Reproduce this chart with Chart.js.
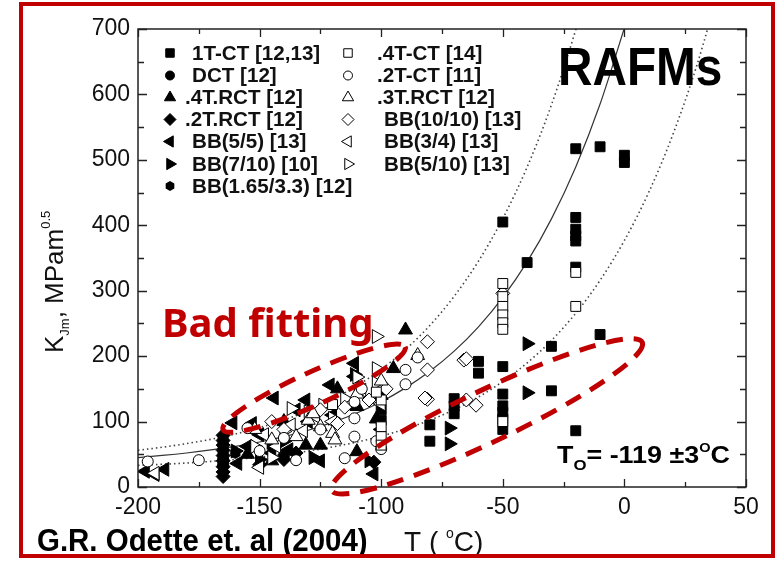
<!DOCTYPE html>
<html>
<head>
<meta charset="utf-8">
<script src="https://cdn.jsdelivr.net/npm/chart.js@4.4.1/dist/chart.umd.min.js"></script>
<style>
  html, body { margin: 0; padding: 0; background: #fff; }
  #wrap { position: relative; width: 775px; height: 563px; }
</style>
</head>
<body>
<div id="wrap"><canvas id="chart"></canvas></div>
<script>
const SANS = '"Liberation Sans", Arial, sans-serif';

// axis ticks
const tempTicks = [-200, -150, -100, -50, 0, 50];
const kTicks = [0, 100, 200, 300, 400, 500, 600, 700];

// master curve (median) and 5% / 95% bounds
const medianT = [-200, -190, -180, -170, -160, -150, -140, -130, -120, -110, -100, -90, -80, -70, -60, -50, -40, -30, -20, -10, 0];
const medianK = [45.0, 48.2, 52.0, 56.6, 62.1, 68.8, 77.0, 86.8, 98.7, 113.1, 130.4, 151.5, 176.9, 207.6, 244.8, 289.7, 344.0, 409.8, 489.2, 585.3, 701.5];
const upperT = [-200, -190, -180, -170, -160, -150, -140, -130, -120, -110, -100, -90, -80, -70, -60, -50, -40, -30, -20, -15];
const upperK = [56.2, 60.8, 66.3, 72.9, 81.0, 90.7, 102.4, 116.7, 133.9, 154.7, 179.8, 210.2, 246.9, 291.4, 345.2, 410.3, 488.9, 584.0, 699.0, 765];
const lowerT = [-200, -190, -180, -170, -160, -150, -140, -130, -120, -110, -100, -90, -80, -70, -60, -50, -40, -30, -20, -10, 0, 10, 20, 30, 40];
const lowerK = [33.1, 34.7, 36.7, 39.1, 42.1, 45.6, 49.8, 55.0, 61.2, 68.7, 77.8, 88.8, 102.1, 118.2, 137.6, 161.2, 189.6, 224.0, 265.6, 315.9, 376.8, 450.3, 539.4, 647, 777];

// measured points [T degC, K MPa m^0.5]
const ct1 = [[-20,517],[-10,520],[0,507],[0,496],[-50,405],[-40,343],[-20,412],[-20,394],[-20,384],[-20,376],[-20,336],[-10,233],[-20,86],[-30,215],[-30,147],[-50,184],[-50,142],[-50,124],[-50,114],[-50,104],[-50,88],[-60,192],[-60,174],[-70,135],[-70,124],[-70,112],[-80,95],[-80,70],[-100,118],[-100,102],[-165,72],[-165,58]];
const dct = [[-165,42],[-165,34],[-140,48]];
const rct4 = [[-90,240],[-95,181],[-100,140],[-110,123],[-110,54],[-125,64],[-131,64],[-145,40],[-102,104],[-118,150],[-140,100],[-155,50]];
const rct2 = [[-165,79],[-165,71],[-165,64],[-165,56],[-165,48],[-165,40],[-165,31],[-165,23],[-165,16],[-140,42],[-135,52],[-103,38],[-150,34]];
const bb55 = [[-197,24],[-193,19],[-189,27],[-161,98],[-159,36],[-153,97],[-144,136],[-131,133],[-121,156],[-111,189],[-111,169],[-145,52],[-138,57],[-150,80],[-130,100],[-120,110],[-103,20],[-100,88],[-125,40],[-155,62],[-135,118]];
const bb710 = [[-40,219],[-40,144],[-72,90],[-72,66],[-111,172],[-140,70],[-128,45],[-150,42],[-105,40],[-160,55]];
const bb165 = [[-165,44],[-160,52],[-145,62]];
const ct4 = [[-50,311],[-50,291],[-50,276],[-50,263],[-50,251],[-50,241],[-50,100],[-20,328],[-20,276],[-100,133],[-100,92],[-100,77],[-100,64],[-102,145],[-120,126]];
const ct2 = [[-196,39],[-175,41],[-111,130],[-111,105],[-111,77],[-115,44],[-135,41],[-90,179],[-90,157],[-85,198],[-100,58],[-102,70],[-125,88],[-140,75],[-150,55],[-155,90],[-108,150]];
const rct3 = [[-85,201],[-130,102],[-125,92],[-120,82],[-135,77],[-145,72],[-152,88],[-119,72],[-128,112],[-110,142],[-100,162]];
const bb1010 = [[-81,222],[-81,179],[-66,194],[-65,196],[-81,134],[-82,136],[-65,133],[-61,125],[-50,296],[-98,150],[-115,122],[-125,118],[-140,88],[-145,100],[-118,97],[-105,133]];
const bb34 = [[-193,21],[-148,80],[-137,95],[-127,108],[-120,100],[-108,148],[-100,127],[-143,62],[-150,30],[-132,86]];
const bb510 = [[-102,230],[-102,181],[-102,159],[-130,115],[-124,125],[-140,85],[-115,135],[-120,105],[-152,62],[-110,168],[-137,120],[-145,45]];

// hexagon marker
function hexagon(r) {
  const c = document.createElement('canvas');
  c.width = c.height = Math.ceil(r * 2 + 2);
  const g = c.getContext('2d');
  g.fillStyle = '#000';
  g.beginPath();
  for (let i = 0; i < 6; i++) {
    const a = Math.PI / 6 + i * Math.PI / 3;
    const px = c.width / 2 + r * Math.cos(a), py = c.height / 2 + r * Math.sin(a);
    if (i === 0) g.moveTo(px, py); else g.lineTo(px, py);
  }
  g.closePath();
  g.fill();
  return c;
}
const hexBig = hexagon(6);
const hexSmall = hexagon(5);

function pts(arr) { return arr.map(p => ({x: p[0], y: p[1]})); }

function series(label, data, style, rot, r, filled, lr, col) {
  return {
    label: label,
    data: pts(data),
    pointStyle: style,
    pointRotation: rot,
    pointRadius: r,
    pointHoverRadius: r,
    pointBackgroundColor: filled ? '#000' : '#fff',
    pointBorderColor: '#000',
    pointBorderWidth: 1,
    showLine: false,
    order: filled ? 1 : 0,
    legendR: lr,
    legendCol: col,
    legendStyle: style === hexBig ? hexSmall : style
  };
}

function curve(xs, ys, dashed) {
  return {
    label: '',
    data: xs.map((t, i) => ({x: t, y: ys[i]})),
    showLine: true,
    pointRadius: 0,
    borderColor: dashed ? '#444' : '#333',
    borderWidth: dashed ? 1.6 : 1.2,
    borderDash: dashed ? [1.5, 3] : [],
    cubicInterpolationMode: 'monotone',
    order: 2,
    isCurve: true
  };
}

const datasets = [
  series('1T-CT [12,13]', ct1, 'rect', 0, 7, true, 6, 0),
  series('DCT [12]', dct, 'circle', 0, 5.5, true, 4.5, 0),
  series('.4T.RCT [12]', rct4, 'triangle', 0, 8, true, 6.5, 0),
  series('.2T.RCT [12]', rct2, 'rectRot', 0, 7, true, 6, 0),
  series('BB(5/5) [13]', bb55, 'triangle', 270, 8, true, 6.5, 0),
  series('BB(7/10) [10]', bb710, 'triangle', 90, 8, true, 6.5, 0),
  series('BB(1.65/3.3) [12]', bb165, hexBig, 0, 6, true, 5, 0),
  series('.4T-CT [14]', ct4, 'rect', 0, 7, false, 6, 1),
  series('.2T-CT [11]', ct2, 'circle', 0, 5.5, false, 4.5, 1),
  series('.3T.RCT [12]', rct3, 'triangle', 0, 8, false, 6.5, 1),
  series('BB(10/10) [13]', bb1010, 'rectRot', 0, 7, false, 6, 1),
  series('BB(3/4) [13]', bb34, 'triangle', 270, 8, false, 6.5, 1),
  series('BB(5/10) [13]', bb510, 'triangle', 90, 8, false, 6.5, 1),
  curve(medianT, medianK, false),
  curve(upperT, upperK, true),
  curve(lowerT, lowerK, true)
];

// draw text made of runs (for sub/superscripts)
function drawRuns(ctx, runs, x, y, weight, family) {
  let cx = x;
  for (const r of runs) {
    ctx.font = `${weight} ${r.size}px ${family || SANS}`;
    ctx.fillText(r.text, cx, y + (r.dy || 0));
    cx += ctx.measureText(r.text).width;
  }
}

const framePlugin = {
  id: 'frame',
  afterDatasetsDraw(chart) {
    const {ctx, chartArea: a, scales: {x, y}} = chart;
    ctx.save();
    ctx.strokeStyle = '#222';
    ctx.lineWidth = 1.5;
    ctx.strokeRect(a.left, a.top, a.right - a.left, a.bottom - a.top);
    ctx.lineWidth = 1.3;
    ctx.beginPath();
    for (let v = -200; v <= 50; v += 25) {
      const px = Math.round(x.getPixelForValue(v)) + 0.5;
      const len = v % 50 === 0 ? 8 : 5;
      ctx.moveTo(px, a.bottom); ctx.lineTo(px, a.bottom - len);
      ctx.moveTo(px, a.top); ctx.lineTo(px, a.top + len);
    }
    for (let v = 0; v <= 700; v += 50) {
      const py = Math.round(y.getPixelForValue(v)) + 0.5;
      const len = v % 100 === 0 ? 9 : 6;
      ctx.moveTo(a.left, py); ctx.lineTo(a.left + len, py);
      ctx.moveTo(a.right, py); ctx.lineTo(a.right - len, py);
    }
    ctx.stroke();
    ctx.restore();
  }
};

const notesPlugin = {
  id: 'notes',
  afterDraw(chart) {
    const {ctx, scales: {x, y}} = chart;
    ctx.save();

    // legend, two columns
    const rowY = [53, 75.5, 97.5, 119.5, 141.5, 164, 186];
    const markX = [170, 348];
    const textX = [192, 384];
    const rows = [0, 0];
    ctx.textBaseline = 'middle';
    chart.data.datasets.forEach(ds => {
      if (ds.isCurve) return;
      const c = ds.legendCol;
      const yy = rowY[rows[c]++];
      ctx.fillStyle = ds.pointBackgroundColor;
      ctx.strokeStyle = '#000';
      ctx.lineWidth = 1;
      Chart.helpers.drawPoint(ctx, {pointStyle: ds.legendStyle, rotation: ds.pointRotation, radius: ds.legendR, borderWidth: 1}, markX[c], yy);
      ctx.fillStyle = '#111';
      ctx.font = `bold 20px ${SANS}`;
      const tx = ds.label.startsWith('.') ? textX[c] - 7 : textX[c];
      ctx.save();
      ctx.translate(tx, yy + 1);
      ctx.scale(1.03, 1);
      ctx.fillText(ds.label, 0, 0);
      ctx.restore();
    });

    ctx.textBaseline = 'alphabetic';
    ctx.fillStyle = '#000';

    // RAFMs
    ctx.save();
    ctx.translate(558, 85);
    ctx.scale(0.9, 1);
    ctx.font = `bold 53px ${SANS}`;
    ctx.fillText('RAFMs', 0, 0);
    ctx.restore();

    // Bad fitting
    ctx.fillStyle = '#c00000';
    ctx.font = 'bold 40px "Noto Sans", sans-serif';
    ctx.fillText('Bad fitting', 162, 337);

    // T0 label
    ctx.save();
    ctx.translate(557, 463);
    ctx.scale(1.12, 1);
    ctx.fillStyle = '#000';
    drawRuns(ctx, [
      {text: 'T', size: 24},
      {text: 'O', size: 15, dy: 7},
      {text: '= -119 \u00b13', size: 24},
      {text: 'O', size: 13, dy: -11},
      {text: 'C', size: 24}
    ], 0, 0, 'bold');
    ctx.restore();

    // axis titles
    ctx.fillStyle = '#111';
    drawRuns(ctx, [
      {text: 'T ( ', size: 28},
      {text: 'o', size: 14, dy: -13},
      {text: 'C)', size: 28}
    ], 404, 551, 'normal');

    ctx.save();
    ctx.translate(63, 353);
    ctx.rotate(-Math.PI / 2);
    drawRuns(ctx, [
      {text: 'K', size: 26},
      {text: 'Jm', size: 13, dy: 6},
      {text: ', MPam', size: 26},
      {text: '0.5', size: 13, dy: -13}
    ], 0, 0, 'normal');
    ctx.restore();

    // source
    ctx.save();
    ctx.translate(37, 551);
    ctx.scale(0.95, 1);
    ctx.fillStyle = '#000';
    ctx.font = `bold 31px ${SANS}`;
    ctx.fillText('G.R. Odette et. al (2004)', 0, 0);
    ctx.restore();

    // dashed ellipses
    ctx.strokeStyle = '#c00000';
    ctx.lineWidth = 5;
    ctx.setLineDash([17, 11]);
    const ell = [
      {t: -127.6, k: 151, rx: 100, ry: 16.5, rot: -24.5},
      {t: -56.5, k: 108, rx: 172, ry: 26, rot: -25.5}
    ];
    ell.forEach(e => {
      ctx.beginPath();
      ctx.ellipse(x.getPixelForValue(e.t), y.getPixelForValue(e.k), e.rx, e.ry, e.rot * Math.PI / 180, 0, Math.PI * 2);
      ctx.stroke();
    });
    ctx.setLineDash([]);

    // outer red border
    ctx.lineWidth = 4;
    ctx.strokeRect(21, 4, 752, 552);
    ctx.restore();
  }
};

new Chart(document.getElementById('chart'), {
  type: 'scatter',
  data: { datasets: datasets },
  options: {
    responsive: true,
    maintainAspectRatio: false,
    animation: false,
    layout: { padding: { top: 29, right: 29, left: 0, bottom: 0 } },
    plugins: { legend: { display: false }, tooltip: { enabled: false } },
    scales: {
      x: {
        type: 'linear', min: -200, max: 50,
        afterBuildTicks(s) { s.ticks = tempTicks.map(v => ({value: v})); },
        afterFit(s) { s.height = 76; },
        grid: { display: false, drawTicks: false },
        border: { display: false },
        ticks: { color: '#111', padding: 7, maxRotation: 0, autoSkip: false, font: { family: SANS, size: 23 } }
      },
      y: {
        type: 'linear', min: 0, max: 700,
        afterBuildTicks(s) { s.ticks = kTicks.map(v => ({value: v})); },
        afterFit(s) { s.width = 138; },
        grid: { display: false, drawTicks: false },
        border: { display: false },
        ticks: { color: '#111', padding: 8, font: { family: SANS, size: 23 } }
      }
    }
  },
  plugins: [framePlugin, notesPlugin]
});
</script>
</body>
</html>
